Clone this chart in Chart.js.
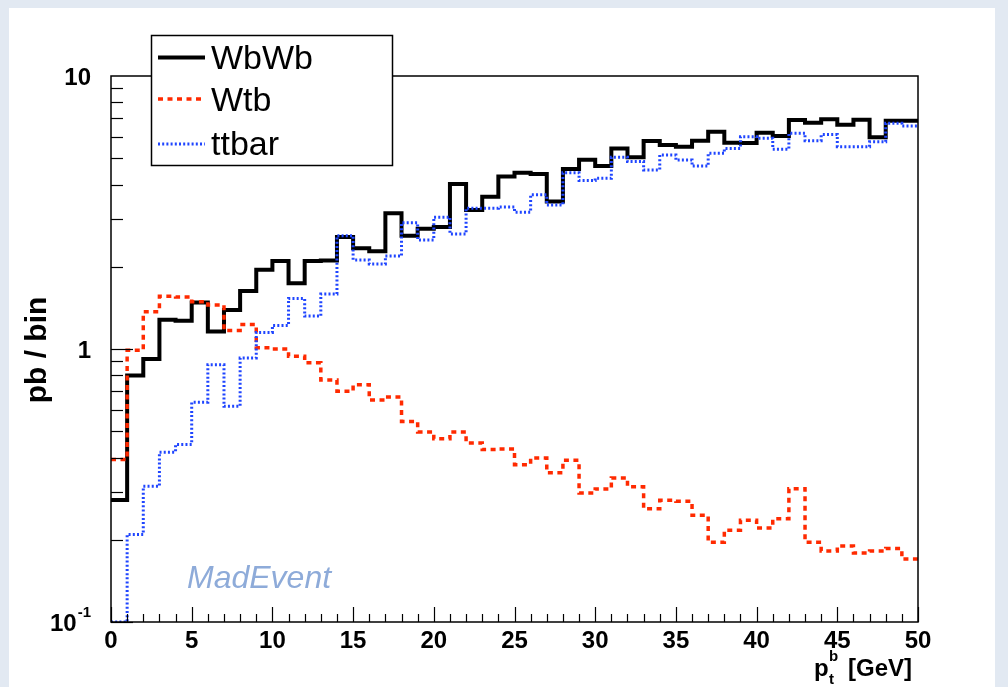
<!DOCTYPE html>
<html>
<head>
<meta charset="utf-8">
<script src="https://cdn.jsdelivr.net/npm/chart.js@4.4.0/dist/chart.umd.min.js"></script>
<style>
  html, body { margin: 0; padding: 0; background: #e2e9f2; }
  canvas { display: block; }
</style>
</head>
<body>
<canvas id="myChart" width="1008" height="687"></canvas>
<script>
// left edges of the 1 GeV bins
const binEdges = [0, 1, 2, 3, 4, 5, 6, 7, 8, 9, 10, 11, 12, 13, 14, 15, 16, 17, 18, 19,
  20, 21, 22, 23, 24, 25, 26, 27, 28, 29, 30, 31, 32, 33, 34, 35, 36, 37, 38, 39,
  40, 41, 42, 43, 44, 45, 46, 47, 48, 49];
const xMax = 50;

const wbwb = [0.28, 0.80, 0.92, 1.28, 1.27, 1.48, 1.16, 1.39, 1.63, 1.95,
  2.10, 1.74, 2.10, 2.11, 2.57, 2.34, 2.28, 3.14, 2.60, 2.76,
  2.80, 4.02, 3.23, 3.61, 4.28, 4.42, 4.38, 3.47, 4.56, 4.93,
  4.68, 5.43, 5.04, 5.78, 5.59, 5.51, 5.79, 6.25, 5.70, 5.68,
  6.20, 6.03, 6.90, 6.74, 6.95, 6.63, 6.92, 5.96, 6.86, 6.86];

const wtb = [0.394, 0.99, 1.37, 1.56, 1.55, 1.49, 1.45, 1.17, 1.23, 1.01,
  1.00, 0.94, 0.89, 0.77, 0.70, 0.74, 0.65, 0.667, 0.543, 0.497,
  0.469, 0.497, 0.453, 0.428, 0.43, 0.377, 0.399, 0.352, 0.391, 0.297,
  0.307, 0.337, 0.313, 0.26, 0.279, 0.277, 0.246, 0.196, 0.217, 0.236,
  0.221, 0.239, 0.308, 0.196, 0.182, 0.19, 0.179, 0.182, 0.186, 0.17];

const ttbar = [0.1, 0.209, 0.314, 0.419, 0.447, 0.638, 0.876, 0.617, 0.927, 1.15,
  1.22, 1.53, 1.32, 1.59, 2.60, 2.12, 2.05, 2.19, 2.90, 2.51,
  3.04, 2.64, 3.28, 3.28, 3.31, 3.17, 3.67, 3.37, 4.42, 4.14,
  4.22, 5.04, 4.86, 4.53, 5.14, 4.92, 4.68, 5.21, 5.43, 5.99,
  5.91, 5.39, 6.17, 5.79, 6.10, 5.51, 5.51, 5.74, 6.71, 6.56];

const xTickLabels = [0, 5, 10, 15, 20, 25, 30, 35, 40, 45, 50];
const yTickLabels = [
  { v: 10, base: "10", sup: "" },
  { v: 1, base: "1", sup: "" },
  { v: 0.1, base: "10", sup: "-1" }
];

const seriesNames = ["WbWb", "Wtb", "ttbar"];
const seriesColors = ["#000000", "#ff2a00", "#1f45ff"];
const seriesWidths = [4, 3.5, 3];
const seriesDash = [[], [5, 4.5], [2, 2.2]];

function toSteps(values) {
  const pts = values.map((v, i) => ({ x: binEdges[i], y: v }));
  pts.push({ x: xMax, y: values[values.length - 1] });
  return pts;
}

const datasets = [wbwb, wtb, ttbar].map((vals, i) => ({
  label: seriesNames[i],
  data: toSteps(vals),
  borderColor: seriesColors[i],
  borderWidth: seriesWidths[i],
  borderDash: seriesDash[i],
  stepped: true,
  pointRadius: 0,
  fill: false,
  order: 3 - i
}));

const rootStyle = {
  id: "rootStyle",
  beforeDraw(chart) {
    const ctx = chart.ctx;
    ctx.save();
    ctx.fillStyle = "#e2e9f2";
    ctx.fillRect(0, 0, chart.width, chart.height);
    ctx.fillStyle = "#ffffff";
    ctx.fillRect(9, 8, 986, 679);
    ctx.restore();
  },
  afterDraw(chart) {
    const ctx = chart.ctx;
    const a = chart.chartArea;
    const xs = chart.scales.x, ys = chart.scales.y;
    ctx.save();
    ctx.strokeStyle = "#000";
    ctx.lineWidth = 1.5;
    ctx.strokeRect(a.left, a.top, a.right - a.left, a.bottom - a.top);

    // y ticks inside the frame
    ctx.lineWidth = 1.2;
    [0.1, 1].forEach(d => {
      for (let m = 1; m <= 9; m++) {
        const y = Math.round(ys.getPixelForValue(d * m)) + 0.5;
        const len = m === 1 ? 22 : 12;
        ctx.beginPath(); ctx.moveTo(a.left, y); ctx.lineTo(a.left + len, y); ctx.stroke();
      }
    });
    // x ticks inside the frame
    for (let v = 0; v <= xMax; v++) {
      const x = Math.round(xs.getPixelForValue(v)) + 0.5;
      const len = v % 5 === 0 ? 15 : 8;
      ctx.beginPath(); ctx.moveTo(x, a.bottom); ctx.lineTo(x, a.bottom - len); ctx.stroke();
    }

    ctx.fillStyle = "#000";
    ctx.font = "bold 24px 'Liberation Sans', Arial, sans-serif";
    ctx.textAlign = "center";
    ctx.textBaseline = "middle";
    xTickLabels.forEach(v => ctx.fillText(String(v), xs.getPixelForValue(v), 641));

    yTickLabels.forEach(t => {
      const y = ys.getPixelForValue(t.v);
      let right = 91;
      if (t.sup) {
        ctx.font = "bold 15px 'Liberation Sans', Arial, sans-serif";
        ctx.textAlign = "right";
        ctx.fillText(t.sup, right, y - 9);
        right -= ctx.measureText(t.sup).width + 1;
      }
      ctx.font = "bold 24px 'Liberation Sans', Arial, sans-serif";
      ctx.textAlign = "right";
      ctx.fillText(t.base, right, y + 2);
    });

    // y title
    ctx.save();
    ctx.translate(38, 350);
    ctx.rotate(-Math.PI / 2);
    ctx.textAlign = "center";
    ctx.font = "bold 30px 'Liberation Sans', Arial, sans-serif";
    ctx.fillText("pb / bin", 0, 0);
    ctx.restore();

    // x title p_t^b [GeV]
    ctx.textAlign = "left";
    ctx.textBaseline = "alphabetic";
    ctx.font = "bold 24px 'Liberation Sans', Arial, sans-serif";
    ctx.fillText("p", 814, 676);
    ctx.font = "bold 15px 'Liberation Sans', Arial, sans-serif";
    ctx.fillText("b", 829, 661);
    ctx.fillText("t", 829, 684);
    ctx.font = "bold 24px 'Liberation Sans', Arial, sans-serif";
    ctx.fillText("[GeV]", 848, 676);

    // MadEvent tag
    ctx.font = "italic 32px 'Liberation Sans', Arial, sans-serif";
    ctx.fillStyle = "#8eabd9";
    ctx.fillText("MadEvent", 187, 588);

    // legend box
    ctx.fillStyle = "#fff";
    ctx.fillRect(151.5, 35.5, 241, 130);
    ctx.strokeStyle = "#000";
    ctx.lineWidth = 1.5;
    ctx.strokeRect(151.5, 35.5, 241, 130);
    const rows = [57.5, 99, 144];
    const bases = [69, 111, 155];
    datasets.forEach((ds, i) => {
      ctx.strokeStyle = ds.borderColor;
      ctx.lineWidth = ds.borderWidth;
      ctx.setLineDash(ds.borderDash);
      ctx.beginPath(); ctx.moveTo(158, rows[i]); ctx.lineTo(205, rows[i]); ctx.stroke();
      ctx.setLineDash([]);
      ctx.fillStyle = "#000";
      ctx.font = "34px 'Liberation Sans', Arial, sans-serif";
      ctx.fillText(ds.label, 211, bases[i]);
    });
    ctx.restore();
  }
};

const ctx = document.getElementById("myChart").getContext("2d");
new Chart(ctx, {
  type: "line",
  data: { datasets },
  options: {
    responsive: false,
    animation: false,
    devicePixelRatio: 1,
    layout: { padding: { left: 111, right: 90, top: 76, bottom: 65 } },
    plugins: {
      legend: { display: false },
      tooltip: { enabled: false }
    },
    scales: {
      x: { type: "linear", min: 0, max: xMax, display: false },
      y: { type: "logarithmic", min: 0.1, max: 10, display: false }
    }
  },
  plugins: [rootStyle]
});
</script>
</body>
</html>
